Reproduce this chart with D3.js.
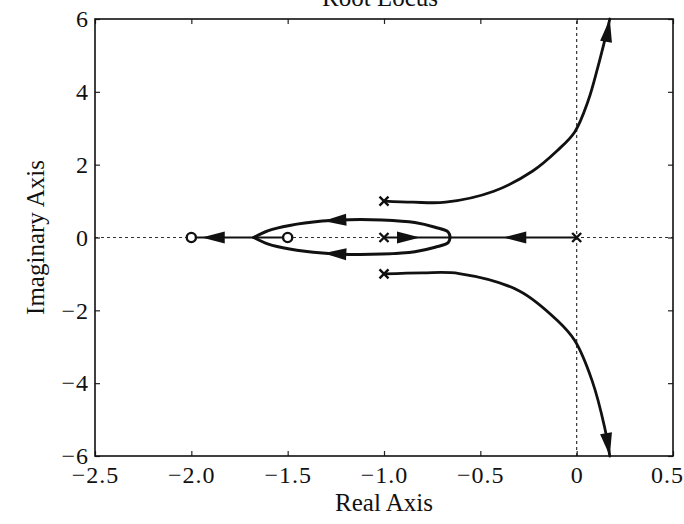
<!DOCTYPE html>
<html>
<head>
<meta charset="utf-8">
<script src="https://cdn.jsdelivr.net/npm/d3@7"></script>
<style>
  body { margin: 0; background: #fff; }
  svg { display: block; }
  svg text { font-family: "Liberation Serif", "Times New Roman", serif; }
</style>
</head>
<body>
<div id="chart"></div>
<script>
// values (real, imaginary)
var xTicks = [-2.5, -2.0, -1.5, -1.0, -0.5, 0, 0.5];
var yTicks = [-6, -4, -2, 0, 2, 4, 6];
var poles = [[0, 0], [-1, 0], [-1, 1], [-1, -1]];
var zeros = [[-2, 0], [-1.5, 0]];

var upperBranch = [[-1, 1], [-0.85, 0.97], [-0.68, 0.97], [-0.43, 1.27], [-0.23, 1.82],
    [-0.1, 2.39], [-0.01, 2.9], [0.06, 3.76], [0.11, 4.68], [0.145, 5.4], [0.172, 6]];
var lowerBranch = [[-1, -1], [-0.8, -0.97], [-0.61, -0.99], [-0.3, -1.46], [-0.1, -2.28],
    [-0.01, -2.83], [0.08, -3.93], [0.145, -5.21], [0.172, -6]];
var loopUpper = [[-0.657, 0], [-0.667, 0.15], [-0.735, 0.28], [-0.84, 0.41], [-1.01, 0.48], [-1.18, 0.49],
    [-1.32, 0.45], [-1.49, 0.33], [-1.6, 0.19], [-1.676, 0]];
var loopLower = loopUpper.map(function (p) { return [p[0], -p[1] * 0.95]; });
var realSegments = [[-2, -1.5], [-1, 0]];

// arrows: tip point and a point behind it (sets the direction)
var arrows = [
    {tip: [0.172, 6], back: [0.15, 5.3]},
    {tip: [0.172, -6], back: [0.15, -5.3]},
    {tip: [-1.315, 0.455], back: [-1.18, 0.49]},
    {tip: [-1.315, -0.43], back: [-1.18, -0.465]},
    {tip: [-0.813, 0], back: [-1, 0]},
    {tip: [-0.381, 0], back: [0, 0]},
    {tip: [-1.946, 0], back: [-1.7, 0]}
];

var width = 684, height = 524;
var margin = {left: 95, right: 11, top: 19, bottom: 68};
var font = '"Liberation Serif", "Times New Roman", serif';

var svg = d3.select('#chart').append('svg')
    .attr('width', width)
    .attr('height', height);

var x = d3.scaleLinear().domain([-2.5, 0.5]).range([margin.left, width - margin.right]);
var y = d3.scaleLinear().domain([-6, 6]).range([height - margin.bottom, margin.top]);

var line = d3.line()
    .x(function (d) { return x(d[0]); })
    .y(function (d) { return y(d[1]); })
    .curve(d3.curveCatmullRom.alpha(0.5));

// dashed zero lines
svg.append('line')
    .attr('x1', x(-2.5)).attr('x2', x(0.5))
    .attr('y1', y(0)).attr('y2', y(0))
    .attr('stroke', '#333').attr('stroke-width', 1.2)
    .attr('stroke-dasharray', '3,3');
svg.append('line')
    .attr('x1', x(0)).attr('x2', x(0))
    .attr('y1', y(-6)).attr('y2', y(6))
    .attr('stroke', '#333').attr('stroke-width', 1.2)
    .attr('stroke-dasharray', '3,3');

// axes, ticks inside
var fmtX = function (d) { return d === 0 ? '0' : d3.format('.1f')(d); };
var axes = [
    svg.append('g')
        .attr('transform', 'translate(0,' + y(-6) + ')')
        .call(d3.axisBottom(x).tickValues(xTicks).tickFormat(fmtX).tickSizeInner(-5).tickSizeOuter(0).tickPadding(10)),
    svg.append('g')
        .attr('transform', 'translate(0,' + y(6) + ')')
        .call(d3.axisTop(x).tickValues(xTicks).tickFormat('').tickSizeInner(-5).tickSizeOuter(0)),
    svg.append('g')
        .attr('transform', 'translate(' + x(-2.5) + ',0)')
        .call(d3.axisLeft(y).tickValues(yTicks).tickFormat(d3.format('d')).tickSizeInner(-5).tickSizeOuter(0).tickPadding(6)),
    svg.append('g')
        .attr('transform', 'translate(' + x(0.5) + ',0)')
        .call(d3.axisRight(y).tickValues(yTicks).tickFormat('').tickSizeInner(-5).tickSizeOuter(0))
];
axes.forEach(function (g) {
    g.attr('font-family', font).attr('font-size', 24);
    g.select('.domain').remove();
    g.selectAll('.tick line').attr('stroke', '#222').attr('stroke-width', 1.2);
    g.selectAll('.tick text').attr('fill', '#111').style('letter-spacing', '1px');
});
// last x label sits against the right edge of the picture
axes[0].selectAll('.tick text').filter(function (d) { return d === 0.5; }).attr('dx', -6);

svg.append('rect')
    .attr('x', x(-2.5)).attr('y', y(6))
    .attr('width', x(0.5) - x(-2.5)).attr('height', y(-6) - y(6))
    .attr('fill', 'none').attr('stroke', '#111').attr('stroke-width', 1.6);

// locus
var locus = svg.append('g')
    .attr('fill', 'none').attr('stroke', '#111').attr('stroke-width', 2.8)
    .attr('stroke-linecap', 'round');
[upperBranch, lowerBranch].forEach(function (b) {
    locus.append('path').attr('d', line(b));
});
[loopUpper, loopLower].forEach(function (b) {
    locus.append('path').attr('d', line(b)).attr('stroke-width', 3);
});
locus.selectAll('line.seg')
    .data(realSegments)
    .enter().append('line')
    .attr('class', 'seg')
    .attr('x1', function (d) { return x(d[0]); })
    .attr('x2', function (d) { return x(d[1]); })
    .attr('y1', y(0)).attr('y2', y(0))
    .attr('stroke-width', 1.8);

// arrow heads
svg.append('g').selectAll('path')
    .data(arrows)
    .enter().append('path')
    .attr('fill', '#111')
    .attr('d', function (d) {
        var tx = x(d.tip[0]), ty = y(d.tip[1]);
        var bx = x(d.back[0]), by = y(d.back[1]);
        var a = Math.atan2(ty - by, tx - bx);
        var len = 23, half = 6;
        var cx = tx - len * Math.cos(a), cy = ty - len * Math.sin(a);
        var px = -Math.sin(a) * half, py = Math.cos(a) * half;
        return 'M' + tx + ',' + ty + 'L' + (cx + px) + ',' + (cy + py) + 'L' + (cx - px) + ',' + (cy - py) + 'Z';
    });

// poles (x) and zeros (o)
svg.append('g').selectAll('path')
    .data(poles)
    .enter().append('path')
    .attr('transform', function (d) { return 'translate(' + x(d[0]) + ',' + y(d[1]) + ')'; })
    .attr('d', 'M-4.5,-4.5L4.5,4.5M-4.5,4.5L4.5,-4.5')
    .attr('stroke', '#111').attr('stroke-width', 2.4);
svg.append('g').selectAll('circle')
    .data(zeros)
    .enter().append('circle')
    .attr('cx', function (d) { return x(d[0]); })
    .attr('cy', function (d) { return y(d[1]); })
    .attr('r', 4.6)
    .attr('fill', '#fff')
    .attr('stroke', '#111').attr('stroke-width', 2.4);

// labels
svg.append('text')
    .attr('x', (x(-2.5) + x(0.5)) / 2 - 4).attr('y', 6)
    .attr('text-anchor', 'middle').attr('font-size', 25).attr('fill', '#111')
    .text('Root Locus');
svg.append('text')
    .attr('x', (x(-2.5) + x(0.5)) / 2).attr('y', 511)
    .attr('text-anchor', 'middle').attr('font-size', 25).attr('fill', '#111')
    .text('Real Axis');
svg.append('text')
    .attr('transform', 'translate(44,' + y(0) + ') rotate(-90)')
    .attr('text-anchor', 'middle').attr('font-size', 25).attr('fill', '#111')
    .text('Imaginary Axis');
</script>
</body>
</html>
